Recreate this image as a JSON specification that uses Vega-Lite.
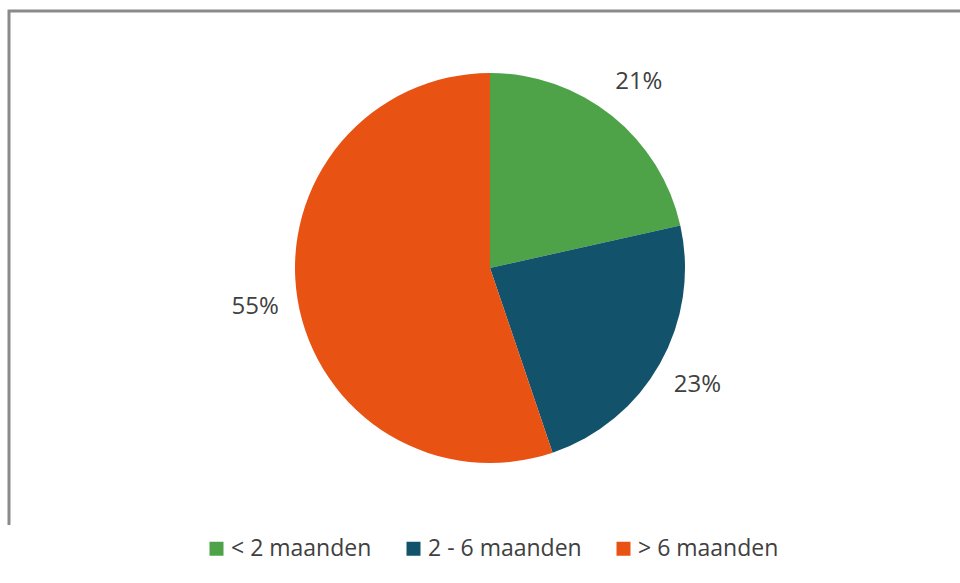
{
  "$schema": "https://vega.github.io/schema/vega-lite/v6.json",
  "width": 962,
  "height": 514,
  "autosize": "none",
  "padding": {"left": 9, "top": 11, "right": 0, "bottom": 58},
  "background": "white",
  "config": {
    "font": "Open Sans",
    "style": {"view": {"stroke": "#8a8a8a", "strokeWidth": 3, "strokeDash": [962, 1476, 514]}},
    "legend": {
      "orient": "none",
      "legendX": 196,
      "legendY": 526,
      "direction": "horizontal",
      "symbolType": "square",
      "symbolSize": 196,
      "symbolStrokeWidth": 0,
      "labelFontSize": 23,
      "labelColor": "#404040",
      "labelFont": "Open Sans",
      "labelOffset": 3,
      "columnPadding": 30,
      "padding": 0,
      "labelLimit": 300
    }
  },
  "data": {
    "values": [
      {"category": "< 2 maanden", "value": 21.5, "label": "21%", "order": 1},
      {"category": "2 - 6 maanden", "value": 23.3, "label": "23%", "order": 2},
      {"category": "> 6 maanden", "value": 55.2, "label": "55%", "order": 3}
    ]
  },
  "encoding": {
    "theta": {"field": "value", "type": "quantitative", "stack": true},
    "order": {"field": "order", "type": "quantitative"}
  },
  "layer": [
    {
      "mark": {"type": "arc", "outerRadius": 195},
      "encoding": {
        "color": {
          "field": "category",
          "type": "nominal",
          "title": null,
          "scale": {
            "domain": ["< 2 maanden", "2 - 6 maanden", "> 6 maanden"],
            "range": ["#4ea248", "#12526b", "#e85314"]
          },
          "sort": ["< 2 maanden", "2 - 6 maanden", "> 6 maanden"]
        }
      }
    },
    {
      "mark": {"type": "text", "radius": 238, "fontSize": 24, "fill": "#404040", "font": "Open Sans"},
      "encoding": {
        "text": {"field": "label", "type": "nominal"},
        "detail": {"field": "category", "type": "nominal"}
      }
    }
  ]
}
